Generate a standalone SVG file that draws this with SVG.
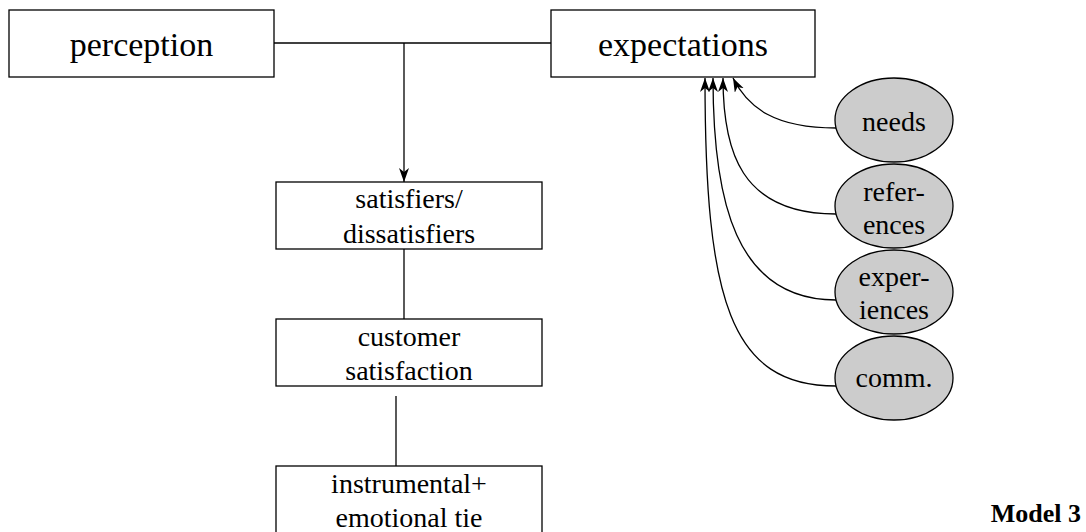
<svg xmlns="http://www.w3.org/2000/svg" width="1086" height="532" viewBox="0 0 1086 532">
<style>
  .box { fill: #ffffff; stroke: #000000; stroke-width: 1.3; }
  .ell { fill: #cccccc; stroke: #000000; stroke-width: 1.3; }
  .conn { fill: none; stroke: #000000; stroke-width: 1.3; }
  text { font-family: 'Liberation Serif', 'Times New Roman', serif; fill: #000; }
  .big { font-size: 34px; text-anchor: middle; }
  .txt { font-size: 28px; text-anchor: middle; }
  .title { font-size: 26px; font-weight: bold; text-anchor: end; }
</style>
<defs>
  <marker id="arrow" markerUnits="userSpaceOnUse" markerWidth="16" markerHeight="12" refX="14" refY="5" orient="auto">
    <path d="M0,0 L14,5 L0,10 L4,5 z" fill="#000" stroke="none"/>
  </marker>
</defs>
<rect width="1086" height="532" fill="#ffffff"/>

<g id="connectors">
  <path class="conn" d="M274 43 L551 43"/>
  <path class="conn" d="M404 43 L404 182" marker-end="url(#arrow)"/>
  <path class="conn" d="M404 249 L404 319"/>
  <path class="conn" d="M396 396 L396 466"/>
  <path class="conn" d="M836 128 C775 128 748 108 733 78" marker-end="url(#arrow)"/>
  <path class="conn" d="M836 214 C740 214 723 150 723 78" marker-end="url(#arrow)"/>
  <path class="conn" d="M836 300 C735 300 713 200 713 78" marker-end="url(#arrow)"/>
  <path class="conn" d="M836 386 C730 386 705 300 705 78" marker-end="url(#arrow)"/>
</g>

<g id="perception">
  <rect class="box" x="9" y="10" width="265" height="67"/>
  <text class="big" x="141.5" y="56">perception</text>
</g>
<g id="expectations">
  <rect class="box" x="551" y="10" width="264" height="67"/>
  <text class="big" x="683" y="56">expectations</text>
</g>
<g id="satisfiers">
  <rect class="box" x="276" y="182" width="266" height="67"/>
  <text class="txt" x="409" y="208">satisfiers/</text>
  <text class="txt" x="409" y="243">dissatisfiers</text>
</g>
<g id="customer-satisfaction">
  <rect class="box" x="276" y="319" width="266" height="67"/>
  <text class="txt" x="409" y="346">customer</text>
  <text class="txt" x="409" y="380">satisfaction</text>
</g>
<g id="tie">
  <rect class="box" x="276" y="466" width="266" height="70"/>
  <text class="txt" x="409" y="493">instrumental+</text>
  <text class="txt" x="409" y="527">emotional tie</text>
</g>
<g id="needs">
  <ellipse class="ell" cx="894" cy="120" rx="59" ry="42"/>
  <text class="txt" x="894" y="131">needs</text>
</g>
<g id="references">
  <ellipse class="ell" cx="894" cy="206" rx="59" ry="42"/>
  <text class="txt" x="894" y="201">refer-</text>
  <text class="txt" x="894" y="234">ences</text>
</g>
<g id="experiences">
  <ellipse class="ell" cx="894" cy="292" rx="59" ry="42"/>
  <text class="txt" x="894" y="286">exper-</text>
  <text class="txt" x="894" y="319">iences</text>
</g>
<g id="comm">
  <ellipse class="ell" cx="894" cy="378" rx="59" ry="42"/>
  <text class="txt" x="894" y="387">comm.</text>
</g>
<g id="model-label">
  <text class="title" x="1081" y="522">Model 3</text>
</g>
</svg>
